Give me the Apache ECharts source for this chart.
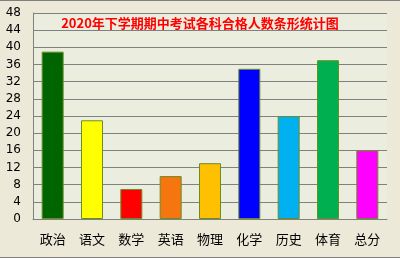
<!DOCTYPE html>
<html><head><meta charset="utf-8">
<script src="https://cdn.jsdelivr.net/npm/echarts@6/dist/echarts.min.js"></script>
<style>html,body{margin:0;padding:0;background:#ECE9D8;}#c{width:400px;height:258px;}</style>
</head><body><div id="c"></div>
<script>
const categories = ['政治','语文','数学','英语','物理','化学','历史','体育','总分'];
const values = [39, 23, 7, 10, 13, 35, 24, 37, 16];
const barColors = ['#006400','#FFFF00','#FF0000','#F5760E','#FFC000','#0000FF','#00B0F0','#00B050','#FF00FF'];
const titleText = '2020年下学期期中考试各科合格人数条形统计图';

const chart = echarts.init(document.getElementById('c'), null, {renderer:'canvas'});
chart.setOption({
  backgroundColor: '#ECE9D8',
  animation: false,
  title: {
    text: titleText, left: 'center', top: 12,
    textStyle: {color:'#FF0000', fontSize:13, fontWeight:'bold', fontFamily:'Noto Sans CJK SC'}
  },
  grid: {left:33, right:13, top:13, bottom:39, show:true, backgroundColor:'#EBEEDF', borderWidth:0},
  xAxis: {
    type:'category', data: categories,
    axisLine:{lineStyle:{color:'#808080', width:1}},
    axisTick:{show:false},
    axisLabel:{color:'#000', fontSize:13, margin:14, fontFamily:'Noto Sans CJK SC'}
  },
  yAxis: {
    type:'value', min:0, max:48, interval:4,
    axisLine:{show:true, lineStyle:{color:'#808080'}},
    axisTick:{show:false},
    axisLabel:{color:'#000', fontSize:12, margin:12, fontFamily:'DejaVu Sans'},
    splitLine:{lineStyle:{color:'#808080', width:1}}
  },
  series: [{
    type:'bar', data: values.map((v,i)=>({value:v, itemStyle:{color:barColors[i]}})),
    barWidth: 22,
    itemStyle:{borderColor:'#6B8E23', borderWidth:1}
  }],
  graphic: [
    {type:'rect', shape:{x:0,y:0,width:400,height:1}, style:{fill:'#808080'}},
    {type:'rect', shape:{x:0,y:257,width:400,height:1}, style:{fill:'#808080'}}
  ]
});
</script></body></html>
